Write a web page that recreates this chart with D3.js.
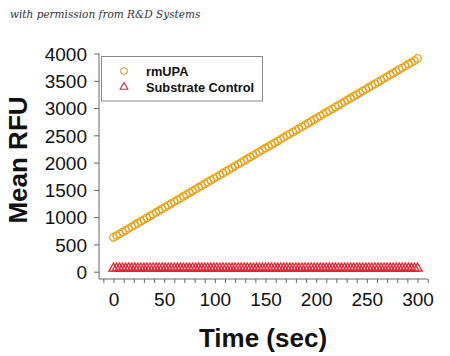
<!DOCTYPE html>
<html><head><meta charset="utf-8">
<script src="https://cdn.jsdelivr.net/npm/d3@7"></script>
<style>
html,body{margin:0;padding:0;background:#fff;}
svg{display:block;}
</style>
</head><body>
<svg id="c" width="450" height="356"></svg>
<script>
const times = [0,3,6,9,12,15,18,21,24,27,30,33,36,39,42,45,48,51,54,57,60,63,66,69,72,75,78,81,84,87,90,93,96,99,102,105,108,111,114,117,120,123,126,129,132,135,138,141,144,147,150,153,156,159,162,165,168,171,174,177,180,183,186,189,192,195,198,201,204,207,210,213,216,219,222,225,228,231,234,237,240,243,246,249,252,255,258,261,264,267,270,273,276,279,282,285,288,291,294,297,300];
const rmUPA = [630,660,692,726,758,792,824,857,889,922,955,988,1020,1053,1086,1118,1151,1184,1216,1249,1282,1315,1347,1380,1413,1446,1478,1511,1544,1577,1609,1642,1675,1708,1740,1773,1806,1839,1871,1904,1937,1970,2002,2035,2068,2101,2133,2166,2199,2232,2264,2297,2330,2363,2395,2428,2461,2494,2526,2559,2592,2625,2657,2690,2723,2756,2788,2821,2854,2887,2919,2952,2985,3018,3050,3083,3116,3149,3181,3214,3247,3280,3312,3345,3378,3411,3443,3476,3509,3542,3574,3607,3640,3673,3705,3738,3771,3804,3836,3869,3910];
const substrateControl = [75,75,76,75,74,75,75,76,75,75,74,75,75,75,76,75,75,74,75,75,75,76,75,75,75,74,75,75,76,75,75,75,74,75,75,75,76,75,75,74,75,75,75,76,75,75,75,74,75,75,76,75,75,75,74,75,75,75,76,75,75,74,75,75,75,76,75,75,75,74,75,75,76,75,75,75,74,75,75,75,76,75,75,74,75,75,75,76,75,75,75,74,75,75,76,75,75,75,74,75,75];
const seriesNames = ["rmUPA","Substrate Control"];
const yTicks = [0,500,1000,1500,2000,2500,3000,3500,4000];
const xTicks = [0,50,100,150,200,250,300];
const xMinorTicks = [-10,0,10,20,30,40,50,60,70,80,90,100,110,120,130,140,150,160,170,180,190,200,210,220,230,240,250,260,270,280,290,300,310];
const xLabel = "Time (sec)";
const yLabel = "Mean RFU";
const credit = "with permission from R&D Systems";

const svg = d3.select("#c");
const x = d3.scaleLinear().domain([0,300]).range([113.5,417.5]);
const y = d3.scaleLinear().domain([0,4000]).range([271.7,53.5]);
const orange = "#E8A116", red = "#DC2434", axisCol = "#666";
const font = "'Liberation Sans', Arial, sans-serif";

// credit
svg.append("text").attr("x",10).attr("y",18)
  .attr("font-family","'DejaVu Serif', 'Liberation Serif', serif").attr("font-style","italic")
  .attr("font-size",10.5).attr("fill","#333").text(credit);

// axes lines
const yBottom = 279;
svg.append("line").attr("x1",99).attr("x2",99).attr("y1",y(4000)).attr("y2",yBottom)
  .attr("stroke",axisCol).attr("stroke-width",1);
svg.append("line").attr("x1",99).attr("x2",x(310)).attr("y1",yBottom).attr("y2",yBottom)
  .attr("stroke",axisCol).attr("stroke-width",1);

// y axis ticks via d3 axis
const yAxis = svg.append("g").attr("transform","translate(99,0)")
  .call(d3.axisLeft(y).tickValues(yTicks).tickSize(5).tickPadding(7).tickFormat(d3.format("d")));
yAxis.select(".domain").remove();
yAxis.selectAll(".tick line").attr("stroke",axisCol);
yAxis.selectAll(".tick text").attr("font-family",font).attr("font-size",19).attr("fill","#111").attr("dy","0.36em");

// x axis minor ticks
const xMinor = svg.append("g").attr("transform",`translate(0,${yBottom})`)
  .call(d3.axisBottom(x).tickValues(xMinorTicks).tickSize(4).tickFormat(""));
xMinor.select(".domain").remove();
xMinor.selectAll(".tick line").attr("stroke",axisCol);
const xAxis = svg.append("g").attr("transform",`translate(0,${yBottom})`)
  .call(d3.axisBottom(x).tickValues(xTicks).tickSize(0).tickPadding(14).tickFormat(d3.format("d")));
xAxis.select(".domain").remove();
xAxis.selectAll(".tick text").attr("font-family",font).attr("font-size",19).attr("fill","#111");

// axis titles
svg.append("text").attr("x",263).attr("y",346.5).attr("text-anchor","middle")
  .attr("font-family",font).attr("font-weight","bold").attr("font-size",26).attr("fill","#111").text(xLabel);
svg.append("text").attr("transform","translate(26.5,160) rotate(-90)").attr("text-anchor","middle")
  .attr("font-family",font).attr("font-weight","bold").attr("font-size",26).attr("fill","#111").text(yLabel);

// data
const tri = d3.symbol().type(d3.symbolTriangle).size(38);
svg.append("g").selectAll("path").data(times).join("path")
  .attr("transform",(t,i)=>`translate(${x(t)},${y(substrateControl[i])+0.8})`)
  .attr("d",tri).attr("fill","none").attr("stroke",red).attr("stroke-width",1.3);
svg.append("g").selectAll("circle").data(times).join("circle")
  .attr("cx",t=>x(t)).attr("cy",(t,i)=>y(rmUPA[i])).attr("r",3.7)
  .attr("fill","none").attr("stroke",orange).attr("stroke-width",1.3);

// legend
svg.append("rect").attr("x",101.5).attr("y",56.5).attr("width",161).attr("height",44.5)
  .attr("fill","#fff").attr("stroke","#888").attr("stroke-width",1);
svg.append("circle").attr("cx",124).attr("cy",71).attr("r",3.3).attr("fill","none").attr("stroke","#D4A03A").attr("stroke-width",1.1);
svg.append("path").attr("transform","translate(124,87)").attr("d",d3.symbol().type(d3.symbolTriangle).size(26)())
  .attr("fill","none").attr("stroke","#B8304A").attr("stroke-width",1.1);
svg.append("text").attr("x",146).attr("y",76).attr("font-family",font).attr("font-weight","bold")
  .attr("font-size",12.8).attr("fill","#111").text(seriesNames[0]);
svg.append("text").attr("x",146).attr("y",91.7).attr("font-family",font).attr("font-weight","bold")
  .attr("font-size",12.8).attr("fill","#111").text(seriesNames[1]);
</script>
</body></html>
